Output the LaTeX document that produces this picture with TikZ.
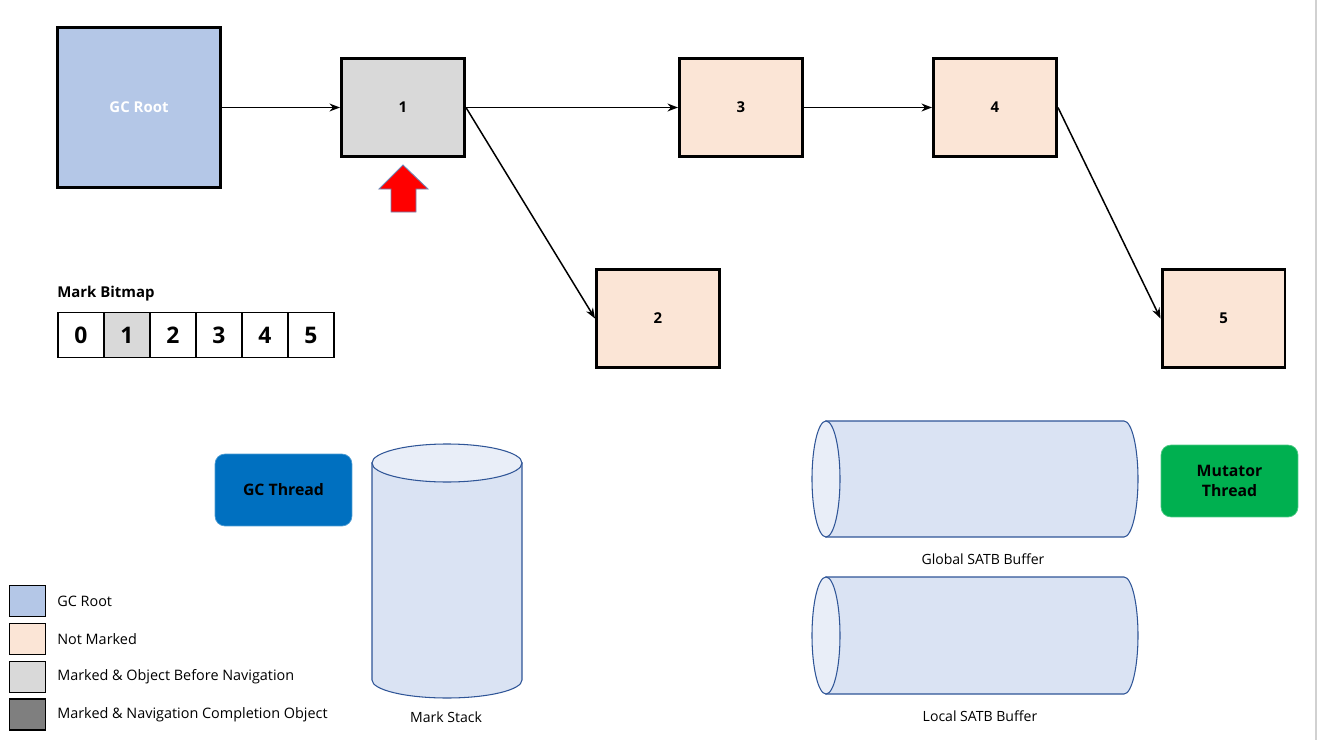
\documentclass[tikz,border=0pt]{standalone}
\usepackage{fontspec}
\setmainfont{Open Sans}
\usetikzlibrary{arrows.meta}
\definecolor{rootblue}{HTML}{B4C7E7}
\definecolor{notmarked}{HTML}{FBE5D6}
\definecolor{markedgray}{HTML}{D9D9D9}
\definecolor{donegray}{HTML}{7F7F7F}
\definecolor{gcblue}{HTML}{0070C0}
\definecolor{mutgreen}{HTML}{00B050}
\definecolor{bufbody}{HTML}{DAE3F3}
\definecolor{bufend}{HTML}{E9EEF8}
\definecolor{bufline}{HTML}{2F5597}
\tikzset{
  obj/.style={rectangle,draw=black,line width=1.7pt,minimum width=2.46cm,minimum height=1.96cm,inner sep=0pt,font=\bfseries\fontsize{8.5}{10}\selectfont},
  cell/.style={rectangle,draw=black,line width=1.1pt,minimum width=0.92cm,minimum height=0.9cm,inner sep=0pt,font=\bfseries\fontsize{13}{15}\selectfont},
  legbox/.style={rectangle,draw=black,line width=0.9pt,minimum width=0.72cm,minimum height=0.62cm,inner sep=0pt},
  legtext/.style={anchor=west,inner sep=0pt,font=\fontsize{8.2}{9.5}\selectfont},
  thread/.style={rectangle,rounded corners=0.2cm,minimum width=2.74cm,minimum height=1.44cm,inner sep=0pt,align=center,font=\bfseries\fontsize{9}{11.3}\selectfont},
  buf/.style={draw=bufline,line width=0.6pt},
  buftext/.style={font=\fontsize{8}{9.5}\selectfont},
  ref/.style={->,>={Stealth[length=6pt,width=4.5pt]},line width=0.85pt}
}
\begin{document}
\begin{tikzpicture}[x=0.02cm,y=-0.02cm]
\useasboundingbox (0,0) rectangle (1319,740);
\draw[color=black!18,line width=0.9pt] (1316,0) -- (1316,740);
% object graph
\node[obj,fill=rootblue,text=white,minimum width=3.26cm,minimum height=3.2cm] (root) at (139,107.5) {GC Root};
\node[obj,fill=markedgray] (o1) at (403,107.5) {1};
\node[obj,fill=notmarked] (o3) at (741,107.5) {3};
\node[obj,fill=notmarked] (o4) at (995,107.5) {4};
\node[obj,fill=notmarked] (o2) at (658,318.5) {2};
\node[obj,fill=notmarked] (o5) at (1223.5,318.5) {5};
\draw[ref] (root) -- (o1);
\draw[ref] (o1) -- (o3);
\draw[ref] (o3) -- (o4);
\draw[ref] (o1.east) -- (o2.west);
\draw[ref] (o4.east) -- (o5.west);
% cursor
\filldraw[fill=red,draw=bufline!70,line width=0.5pt] (403,165) -- (428,189) -- (416,189) -- (416,212) -- (391,212) -- (391,189) -- (379,189) -- cycle;
% mark bitmap
\node[anchor=west,inner sep=0pt,font=\bfseries\fontsize{8.5}{10}\selectfont] (bmlabel) at (57,294) {Mark Bitmap};
\node[cell] (b0) at (81,335) {0};
\node[cell,fill=markedgray] (b1) at (127,335) {1};
\node[cell] (b2) at (173,335) {2};
\node[cell] (b3) at (219,335) {3};
\node[cell] (b4) at (265,335) {4};
\node[cell] (b5) at (311,335) {5};
% threads
\node[thread,fill=gcblue,draw=gcblue!70!white] (gct) at (283.5,490) {GC Thread};
\node[thread,fill=mutgreen,draw=mutgreen!70!white] (mut) at (1229.5,481) {Mutator\\Thread};
% mark stack
\filldraw[buf,fill=bufbody] (372,463) -- (372,680) arc[start angle=180,end angle=0,x radius=75,y radius=18] -- (522,463) -- cycle;
\filldraw[buf,fill=bufend] (447,463) ellipse[x radius=75,y radius=19];
\node[buftext] (stacklabel) at (446,717) {Mark Stack};
% SATB buffers
\filldraw[buf,fill=bufbody] (826,421) -- (1124,421) arc[start angle=-90,end angle=90,x radius=14,y radius=58] -- (826,537) -- cycle;
\filldraw[buf,fill=bufend] (826,479) ellipse[x radius=14,y radius=58];
\node[buftext] (gbuflabel) at (983,559) {Global SATB Buffer};
\filldraw[buf,fill=bufbody] (826,577) -- (1124,577) arc[start angle=-90,end angle=90,x radius=14,y radius=58.5] -- (826,694) -- cycle;
\filldraw[buf,fill=bufend] (826,635.5) ellipse[x radius=14,y radius=58.5];
\node[buftext] (lbuflabel) at (980,716) {Local SATB Buffer};
% legend
\node[legbox,fill=rootblue] (l1) at (27.5,601) {};
\node[legbox,fill=notmarked] (l2) at (27.5,639) {};
\node[legbox,fill=markedgray] (l3) at (27.5,677) {};
\node[legbox,fill=donegray] (l4) at (27.5,714.5) {};
\node[legtext] (t1) at (57,601) {GC Root};
\node[legtext] (t2) at (57,639) {Not Marked};
\node[legtext] (t3) at (57,677) {Marked \& Object Before Navigation};
\node[legtext] (t4) at (57,714.5) {Marked \& Navigation Completion Object};
\end{tikzpicture}
\end{document}
